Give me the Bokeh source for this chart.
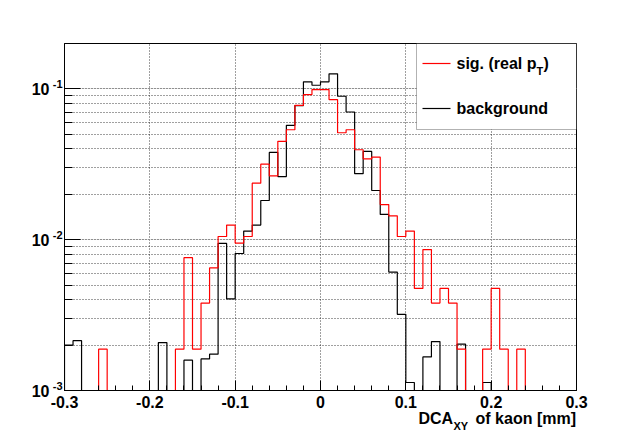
import numpy as np
from bokeh.plotting import figure
from bokeh.models import (Range1d, FixedTicker, Label, BoxAnnotation, LogAxis, LinearAxis,
                          Grid, CustomJSTickFormatter)
from bokeh.embed import file_html
from bokeh.resources import INLINE

# ---------------- data ----------------
x_low, x_high, n_bins = -0.3, 0.3, 60

signal = [
    0, 0, 0, 0, 0.00188, 0, 0, 0, 0, 0,
    0, 0, 0, 0.00188, 0.0076, 0.00188, 0.0038, 0.0065, 0.0105, 0.0125,
    0.0095, 0.0105, 0.0237, 0.0317, 0.0265, 0.0449, 0.0536, 0.0778, 0.0917, 0.099,
    0.099, 0.0849, 0.0512, 0.0536, 0.0395, 0.0344, 0.0353, 0.0171, 0.0144, 0.0105,
    0.0114, 0.00475, 0.0086, 0.0038, 0.00475, 0.0038, 0.00188, 0, 0, 0.00188,
    0.00475, 0.00188, 0, 0.00188, 0, 0, 0, 0, 0, 0,
]

background = [
    0.0020, 0.00214, 0, 0, 0, 0, 0, 0, 0, 0,
    0, 0.00208, 0, 0, 0.00159, 0, 0.00162, 0.00174, 0.00945, 0.00405,
    0.0081, 0.0114, 0.0125, 0.0182, 0.0379, 0.0262, 0.0573, 0.0775, 0.1114, 0.1057,
    0.1114, 0.1259, 0.0894, 0.0703, 0.0274, 0.0385, 0.0212, 0.0147, 0.0061, 0.0032,
    0.00113, 0, 0.00167, 0.00211, 0, 0, 0.00203, 0, 0, 0.00113,
    0, 0, 0, 0, 0, 0, 0, 0, 0, 0,
]

x_ticks = [-0.3, -0.2, -0.1, 0.0, 0.1, 0.2, 0.3]
x_tick_labels = ["-0.3", "-0.2", "-0.1", "0", "0.1", "0.2", "0.3"]
y_major = [0.001, 0.01, 0.1]
y_exponents = ["-3", "-2", "-1"]
y_minor = [0.002, 0.003, 0.004, 0.005, 0.006, 0.007, 0.008, 0.009,
           0.02, 0.03, 0.04, 0.05, 0.06, 0.07, 0.08, 0.09, 0.2]
y_min, y_max = 1e-3, 0.2

series_names = ["sig. (real p", "background"]
x_title = ["DCA", "XY", "of kaon [mm]"]

# ---------------- layout ----------------
W, H = 640, 434
FL, FR, FT, FB = 64, 576, 43, 390   # frame in pixels
FONT = "Liberation Sans"


def px2x(px):
    return x_low + (px - FL) / (FR - FL) * (x_high - x_low)


def py2y(py):
    lo, hi = np.log10(y_min), np.log10(y_max)
    return 10 ** (lo + (FB - py) / (FB - FT) * (hi - lo))


def y2py(y):
    lo, hi = np.log10(y_min), np.log10(y_max)
    return FB - (np.log10(y) - lo) / (hi - lo) * (FB - FT)


def labels_fmt(labels):
    return CustomJSTickFormatter(args=dict(labels=labels), code="return labels[index];")


p = figure(width=W, height=H, x_range=Range1d(x_low, x_high),
           y_range=Range1d(y_min, y_max), y_axis_type="log", y_axis_location=None,
           output_backend="svg", toolbar_location=None,
           min_border_left=FL, min_border_right=W - FR,
           min_border_top=FT, min_border_bottom=H - FB)
p.background_fill_color = "white"
p.border_fill_color = "white"
p.outline_line_color = "black"
p.outline_line_width = 1

# grid
p.xgrid.ticker = FixedTicker(ticks=x_ticks[1:-1])
ygrid = Grid(dimension=1, ticker=FixedTicker(ticks=y_major + y_minor[:-1]))
p.add_layout(ygrid)
for g in (p.xgrid[0], ygrid):
    g.grid_line_color = "black"
    g.grid_line_alpha = 0.75
    g.grid_line_dash = "1 2"
    g.grid_line_width = 1

text_kw = dict(major_label_text_font=FONT, major_label_text_font_style="bold",
               major_label_text_color="black")

# x axis (ticks + labels)
xa = p.xaxis[0]
xa.ticker = FixedTicker(ticks=x_ticks,
                        minor_ticks=list(np.round(np.arange(-0.3, 0.3001, 0.02), 2)))
xa.formatter = labels_fmt(x_tick_labels)
xa.major_tick_in = 10
xa.major_tick_out = 0
xa.minor_tick_in = 5
xa.minor_tick_out = 0
xa.major_label_standoff = 5
xa.major_label_text_font_size = "16px"
xa.major_label_text_font = FONT
xa.major_label_text_font_style = "bold"
xa.major_label_text_color = "black"
xa.axis_line_color = "black"
xa.major_tick_line_color = "black"
xa.minor_tick_line_color = "black"

# x axis title: two extra label-only axes below
title_main = LinearAxis(ticker=FixedTicker(ticks=[px2x(418 + 17.3), px2x(475 + 50.3)]),
                        formatter=labels_fmt([x_title[0], x_title[2]]),
                        axis_line_color=None, major_tick_line_color=None,
                        minor_tick_line_color=None, major_tick_in=0, major_tick_out=0,
                        minor_tick_in=0, minor_tick_out=0, major_label_standoff=-1,
                        major_label_text_font_size="16px", **text_kw)
title_sub = LinearAxis(ticker=FixedTicker(ticks=[px2x(453 + 7.3)]),
                       formatter=labels_fmt([x_title[1]]),
                       axis_line_color=None, major_tick_line_color=None,
                       minor_tick_line_color=None, major_tick_in=0, major_tick_out=0,
                       minor_tick_in=0, minor_tick_out=0, major_label_standoff=-10,
                       major_label_text_font_size="11px", **text_kw)
p.add_layout(title_main, "below")
p.add_layout(title_sub, "below")

# y axis: ticks, then exponent labels, then "10" labels
ya = LogAxis(ticker=FixedTicker(ticks=y_major, minor_ticks=y_minor),
             formatter=labels_fmt(["", "", ""]),
             major_tick_in=16, major_tick_out=0, minor_tick_in=8, minor_tick_out=0,
             major_label_standoff=0, major_label_text_font_size="1px",
             axis_line_color="black", major_tick_line_color="black",
             minor_tick_line_color="black")
ya_exp = LogAxis(ticker=FixedTicker(ticks=[py2y(y2py(t) - 5) for t in y_major]),
                 formatter=labels_fmt(y_exponents),
                 axis_line_color=None, major_tick_line_color=None, minor_tick_line_color=None,
                 major_tick_in=0, major_tick_out=0, minor_tick_in=0, minor_tick_out=0,
                 major_label_standoff=2, major_label_text_font_size="11px", **text_kw)
ya_ten = LogAxis(ticker=FixedTicker(ticks=y_major),
                 formatter=labels_fmt(["10"] * len(y_major)),
                 axis_line_color=None, major_tick_line_color=None, minor_tick_line_color=None,
                 major_tick_in=0, major_tick_out=0, minor_tick_in=0, minor_tick_out=0,
                 major_label_standoff=0, major_label_text_font_size="16px", **text_kw)
p.add_layout(ya, "left")
p.add_layout(ya_exp, "left")
p.add_layout(ya_ten, "left")

# histograms as outlined steps
edges = np.linspace(x_low, x_high, n_bins + 1)


def step_xy(vals):
    v = np.maximum(np.asarray(vals, dtype=float), y_min)
    xs = np.concatenate([[edges[0]], edges[:-1], [edges[-1]]])
    ys = np.concatenate([[y_min], v, [y_min]])
    return xs, ys


bx, by = step_xy(background)
p.step(bx, by, mode="after", line_color="black", line_width=1.2)
sx, sy = step_xy(signal)
p.step(sx, sy, mode="after", line_color="#ff0000", line_width=1.2)

# legend box
p.add_layout(BoxAnnotation(left=px2x(416), right=px2x(576), top=py2y(43), bottom=py2y(129),
                           fill_color="white", fill_alpha=1.0, line_color="black",
                           line_width=1, level="annotation"))
leg = p.segment(x0=[px2x(422), px2x(422)], x1=[px2x(450), px2x(450)],
                y0=[py2y(63), py2y(108)], y1=[py2y(63), py2y(108)],
                line_color=["#ff0000", "black"], line_width=1.2)
leg.level = "overlay"

lab_kw = dict(text_font=FONT, text_font_style="bold", text_color="black",
              text_baseline="middle", text_align="left", level="overlay")
p.add_layout(Label(x=px2x(456), y=py2y(63), text=series_names[0], text_font_size="16px", **lab_kw))
p.add_layout(Label(x=px2x(536), y=py2y(70), text="T", text_font_size="11px", **lab_kw))
p.add_layout(Label(x=px2x(543), y=py2y(63), text=")", text_font_size="16px", **lab_kw))
p.add_layout(Label(x=px2x(456), y=py2y(108), text=series_names[1], text_font_size="16px", **lab_kw))

open("out.html", "w").write(file_html(p, INLINE))
